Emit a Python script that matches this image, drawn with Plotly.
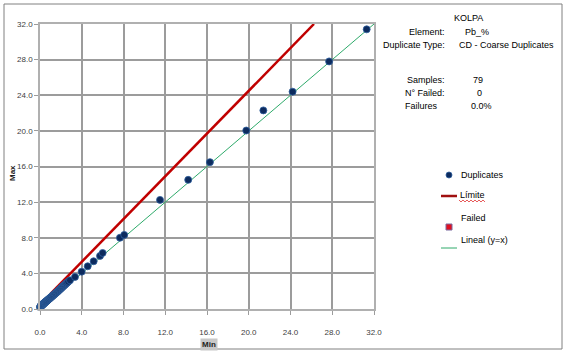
import plotly.graph_objects as go

# ---- data ----
dup_min = [0.00, 0.02, 0.04, 0.05, 0.07, 0.08, 0.10, 0.12, 0.13, 0.15,
           0.17, 0.19, 0.21, 0.23, 0.25, 0.28, 0.30, 0.33, 0.35, 0.38,
           0.41, 0.44, 0.47, 0.50, 0.53, 0.57, 0.60, 0.64, 0.68, 0.72,
           0.76, 0.80, 0.85, 0.90, 0.95, 1.00, 1.05, 1.10, 1.16, 1.22,
           1.28, 1.34, 1.40, 1.47, 1.54, 1.60, 1.67, 1.74, 1.80, 1.87,
           1.93, 2.00, 2.06, 2.12, 2.18, 2.25, 2.32, 2.38, 2.45, 2.52,
           2.60, 2.70,
           2.87, 3.35, 3.99, 4.57, 5.14, 5.75, 6.00, 7.66, 8.07, 11.50,
           14.20, 16.28, 19.76, 21.40, 24.20, 27.70, 31.30]
dup_max = [0.20, 0.24, 0.30, 0.27, 0.33, 0.31, 0.36, 0.35, 0.40, 0.38,
           0.42, 0.46, 0.44, 0.50, 0.49, 0.54, 0.58, 0.56, 0.62, 0.63,
           0.68, 0.70, 0.72, 0.78, 0.79, 0.83, 0.88, 0.90, 0.95, 0.99,
           1.02, 1.08, 1.12, 1.16, 1.22, 1.27, 1.31, 1.38, 1.42, 1.49,
           1.56, 1.61, 1.68, 1.74, 1.82, 1.88, 1.95, 2.02, 2.10, 2.16,
           2.24, 2.30, 2.38, 2.44, 2.52, 2.58, 2.66, 2.73, 2.80, 2.88,
           2.96, 3.06,
           3.22, 3.60, 4.19, 4.80, 5.36, 5.96, 6.29, 8.00, 8.32, 12.25,
           14.50, 16.49, 20.04, 22.30, 24.40, 27.80, 31.40]
limit_x = [1.0, 26.25]
limit_y = [1.7, 32.0]
line_x = [0.0, 32.0]
line_y = [0.0, 32.0]
tick_vals = [0, 4, 8, 12, 16, 20, 24, 28, 32]
tick_text = ["0.0", "4.0", "8.0", "12.0", "16.0", "20.0", "24.0", "28.0", "32.0"]

info_title = "KOLPA"
info_labels = ["Element:", "Duplicate Type:", "Samples:", "N° Failed:", "Failures"]
info_values = ["Pb_%", "CD - Coarse Duplicates", "79", "0", "0.0%"]
legend_names = ["Duplicates", "Límite", "Failed", "Lineal (y=x)"]

W, H = 567, 353
L, R, T, B = 40, 374, 24, 309
FONT = "Liberation Sans, Arial, sans-serif"


def px(x):
    return (x - L) / (R - L)


def py(y):
    return (B - y) / (B - T)


fig = go.Figure()
fig.add_trace(go.Scatter(x=line_x, y=line_y, mode="lines",
                         line=dict(color="#2eaa6a", width=1), showlegend=False,
                         hoverinfo="skip"))
fig.add_trace(go.Scatter(x=limit_x, y=limit_y, mode="lines",
                         line=dict(color="#c00000", width=2.5), showlegend=False))
fig.add_trace(go.Scatter(x=dup_min, y=dup_max, mode="markers",
                         marker=dict(color="#0d2b5e", size=7,
                                     line=dict(color="#2f5f9e", width=0.8)),
                         cliponaxis=False, showlegend=False))

axis_common = dict(range=[0, 32], tickmode="array", tickvals=tick_vals,
                   showgrid=True, gridcolor="#9c9c9c", gridwidth=1.5,
                   showline=True, linecolor="#b0b0b0", linewidth=1.5, mirror=True,
                   ticks="outside", ticklen=4, tickcolor="#9c9c9c",
                   tickfont=dict(family=FONT, size=8, color="#404040"),
                   zeroline=False, fixedrange=True)
fig.update_xaxes(**axis_common, ticktext=["<br>" + t for t in tick_text])
fig.update_yaxes(**axis_common, ticktext=tick_text)

shapes = []
annotations = []

# outer border
shapes.append(dict(type="rect", xref="paper", yref="paper",
                   x0=px(4), x1=px(562), y0=py(349), y1=py(4),
                   line=dict(color="#808080", width=1), fillcolor="rgba(0,0,0,0)"))

# axis titles
annotations.append(dict(text="<b>Min</b>", xref="paper", yref="paper",
                        x=px(209), y=py(344), xanchor="center", yanchor="middle",
                        showarrow=False,
                        font=dict(family=FONT, size=8, color="#222"),
                        bgcolor="#c8c8c8", borderpad=1))
annotations.append(dict(text="<b>Max</b>", xref="paper", yref="paper",
                        x=px(12), y=py(173), xanchor="center", yanchor="middle",
                        showarrow=False, textangle=-90,
                        font=dict(family=FONT, size=8, color="#222")))

# info panel
tf = dict(family=FONT, size=9, color="#000")


def note(text, x, y, xanchor="center"):
    annotations.append(dict(text=text, xref="paper", yref="paper", x=px(x), y=py(y),
                            xanchor=xanchor, yanchor="middle", showarrow=False, font=tf))


note(info_title, 468, 18)
label_rows = [32, 45, 80, 93, 106]
label_right = [447, 447, 447, 447, 440]
value_x = [477, 457, 478, 479, 481]
value_anchor = ["center", "left", "center", "center", "center"]
for lab, val, yy, xr, vx, va in zip(info_labels, info_values, label_rows,
                                    label_right, value_x, value_anchor):
    note(lab, xr, yy, "right")
    note(val, vx, yy, va)

# custom legend
shapes.append(dict(type="circle", xref="paper", yref="paper",
                   x0=px(446), x1=px(452), y0=py(178), y1=py(172),
                   fillcolor="#0d2b5e", line=dict(color="#2f5f9e", width=0.8)))
note(legend_names[0], 459, 175, "left")
shapes.append(dict(type="line", xref="paper", yref="paper",
                   x0=px(441), x1=px(457), y0=py(196), y1=py(196),
                   line=dict(color="#a01010", width=2.5)))
note(legend_names[1], 458, 195, "left")
# spell-check squiggle under "Límite"
sq = []
xs = list(range(459, 486, 2))
for i, xv in enumerate(xs):
    yv = 200 if i % 2 == 0 else 202
    sq.append(("M" if i == 0 else "L") + f"{px(xv):.5f},{py(yv):.5f}")
shapes.append(dict(type="path", xref="paper", yref="paper", path=" ".join(sq),
                   line=dict(color="#e03030", width=0.8)))
note(legend_names[2], 459, 218, "left")
shapes.append(dict(type="rect", xref="paper", yref="paper",
                   x0=px(446), x1=px(452), y0=py(230), y1=py(224),
                   fillcolor="#e01020", line=dict(color="#7b6aa0", width=1)))
note(legend_names[3], 459, 240, "left")
shapes.append(dict(type="line", xref="paper", yref="paper",
                   x0=px(441), x1=px(457), y0=py(248), y1=py(248),
                   line=dict(color="#2eaa6a", width=1)))

fig.update_layout(width=W, height=H, autosize=False,
                  margin=dict(l=L, r=W - R, t=T, b=H - B, pad=0),
                  paper_bgcolor="white", plot_bgcolor="white",
                  showlegend=False, shapes=shapes, annotations=annotations,
                  font=dict(family=FONT))

fig.write_html("out.html", config={"displayModeBar": False})
